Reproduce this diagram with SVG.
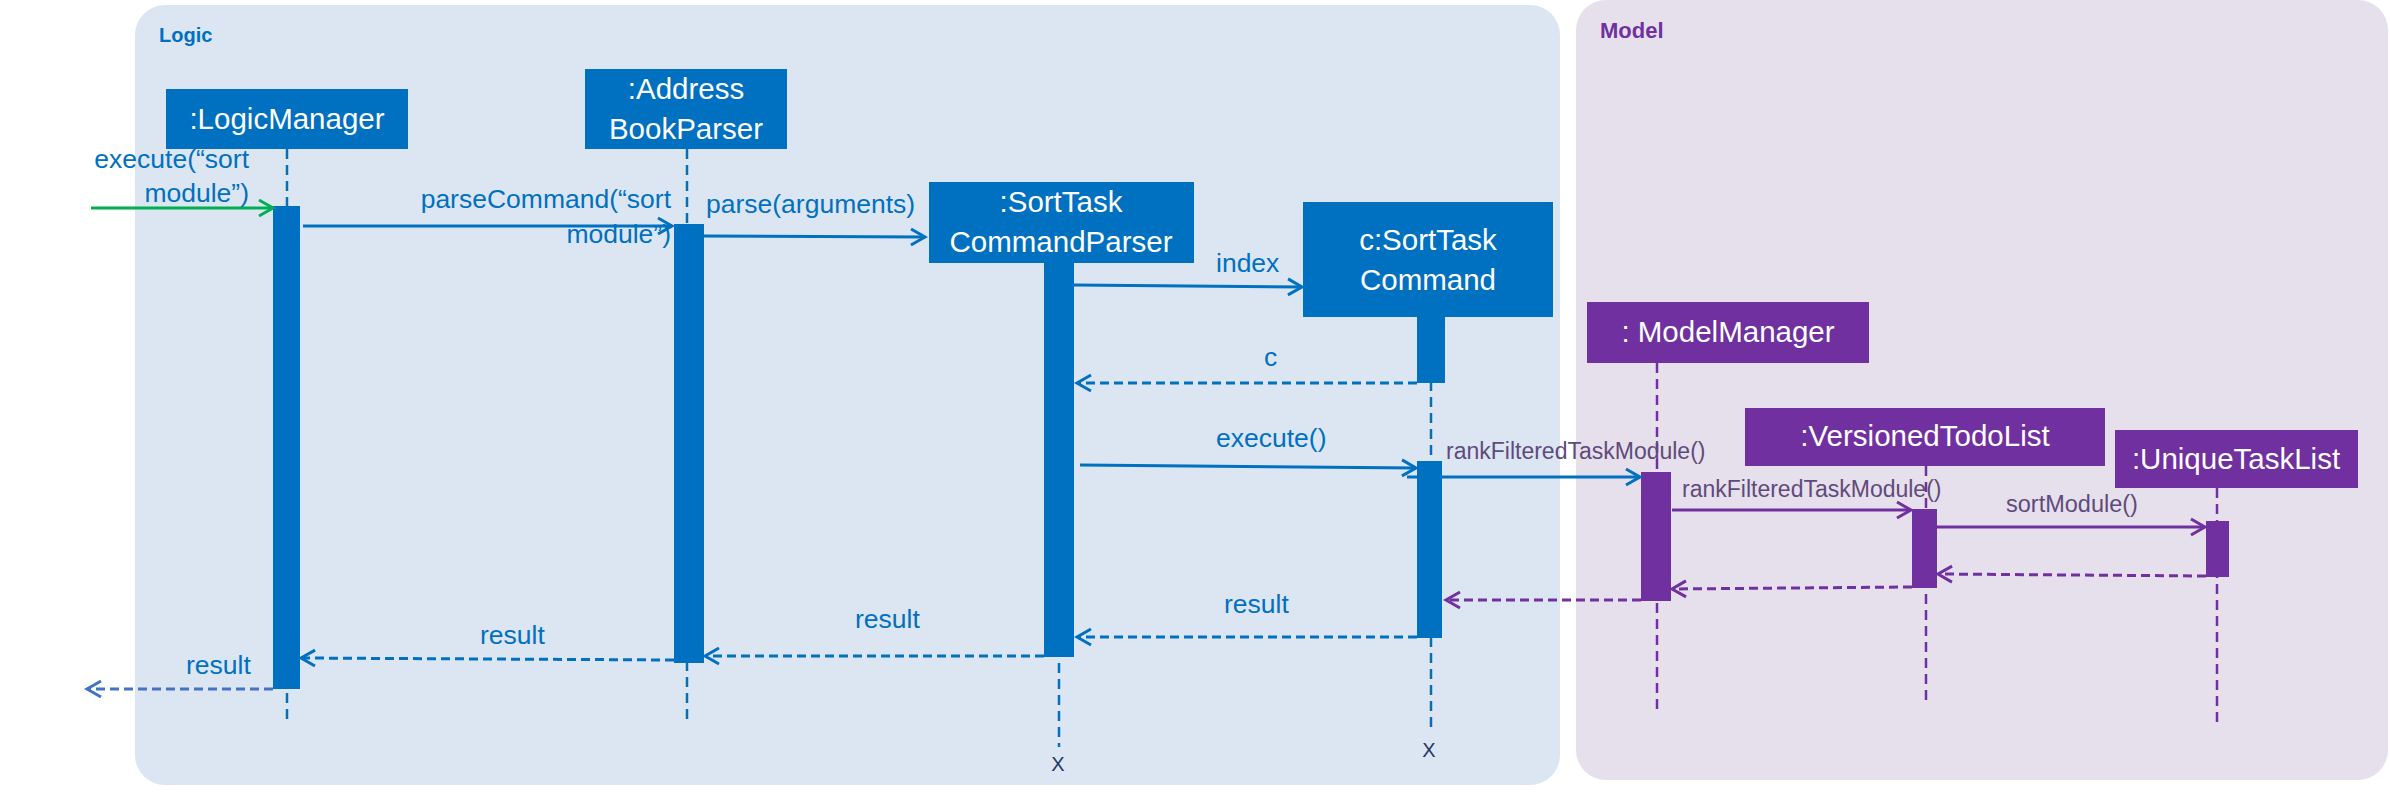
<svg xmlns="http://www.w3.org/2000/svg" width="2390" height="792" viewBox="0 0 2390 792">
<style>
text{font-family:"Liberation Sans",Arial,sans-serif}
.nb{fill:#0070C0}
.np{fill:#7030A0}
.nt{fill:#ffffff;font-size:29.5px;text-anchor:middle}
.lb{fill:#0070C0;font-size:26.5px}
.lp{fill:#604A7B;font-size:23.5px}
.ll{fill:none;stroke-width:2.5;stroke-dasharray:10 6}
.msg{fill:none;stroke-width:3}
.ret{fill:none;stroke-width:3;stroke-dasharray:9 5}
.blue{stroke:#0070C0}
.purple{stroke:#7030A0}
.x{fill:#1F3864;font-size:20px;text-anchor:middle}
</style>
<defs>
<marker id="ab" viewBox="0 0 18 20" refX="15" refY="10" markerWidth="18" markerHeight="20" markerUnits="userSpaceOnUse" orient="auto"><path d="M1,2 L15,10 L1,18" fill="none" stroke="#0070C0" stroke-width="3" stroke-dasharray="none"/></marker>
<marker id="ap" viewBox="0 0 18 20" refX="15" refY="10" markerWidth="18" markerHeight="20" markerUnits="userSpaceOnUse" orient="auto"><path d="M1,2 L15,10 L1,18" fill="none" stroke="#7030A0" stroke-width="3" stroke-dasharray="none"/></marker>
<marker id="ag" viewBox="0 0 18 20" refX="15" refY="10" markerWidth="18" markerHeight="20" markerUnits="userSpaceOnUse" orient="auto"><path d="M1,2 L15,10 L1,18" fill="none" stroke="#00B050" stroke-width="3" stroke-dasharray="none"/></marker>
<marker id="al" viewBox="0 0 18 20" refX="15" refY="10" markerWidth="18" markerHeight="20" markerUnits="userSpaceOnUse" orient="auto"><path d="M1,2 L15,10 L1,18" fill="none" stroke="#4472C4" stroke-width="3" stroke-dasharray="none"/></marker>
</defs>

<g id="frames">
<rect x="135" y="5" width="1425" height="780" rx="30" fill="#DCE6F2"/>
<text x="159" y="42" font-size="20" font-weight="bold" fill="#0070C0">Logic</text>
<rect x="1576" y="0" width="812" height="780" rx="30" fill="#E6E0EC"/>
<text x="1600" y="38" font-size="22" font-weight="bold" fill="#7030A0">Model</text>
</g>

<g id="lifelines">
<line class="ll blue" x1="287" y1="149" x2="287" y2="722"/>
<line class="ll blue" x1="687" y1="149" x2="687" y2="722"/>
<line class="ll blue" x1="1059" y1="263" x2="1059" y2="747"/>
<line class="ll blue" x1="1431" y1="317" x2="1431" y2="728"/>
<line class="ll purple" x1="1657" y1="363" x2="1657" y2="710"/>
<line class="ll purple" x1="1926" y1="466" x2="1926" y2="700"/>
<line class="ll purple" x1="2217" y1="488" x2="2217" y2="722"/>
</g>

<g id="LogicManager">
<rect class="nb" x="166" y="89" width="242" height="60"/>
<text class="nt" x="287" y="129">:LogicManager</text>
<rect class="nb" x="273" y="206" width="27" height="483"/>
</g>
<g id="AddressBookParser">
<rect class="nb" x="585" y="69" width="202" height="80"/>
<text class="nt" x="686" y="99">:Address</text>
<text class="nt" x="686" y="139">BookParser</text>
<rect class="nb" x="674" y="224" width="30" height="439"/>
</g>
<g id="SortTaskCommandParser">
<rect class="nb" x="929" y="182" width="265" height="81"/>
<text class="nt" x="1061" y="212">:SortTask</text>
<text class="nt" x="1061" y="252">CommandParser</text>
<rect class="nb" x="1044" y="263" width="30" height="394"/>
<text class="x" x="1058" y="771">X</text>
</g>
<g id="SortTaskCommand">
<rect class="nb" x="1303" y="202" width="250" height="115"/>
<text class="nt" x="1428" y="250">c:SortTask</text>
<text class="nt" x="1428" y="290">Command</text>
<rect class="nb" x="1417" y="317" width="28" height="66"/>
<rect class="nb" x="1417" y="461" width="25" height="177"/>
<text class="x" x="1429" y="757">X</text>
</g>
<g id="ModelManager">
<rect class="np" x="1587" y="302" width="282" height="61"/>
<text class="nt" x="1728" y="342">: ModelManager</text>
<rect class="np" x="1641" y="472" width="30" height="129"/>
</g>
<g id="VersionedTodoList">
<rect class="np" x="1745" y="408" width="360" height="58"/>
<text class="nt" x="1925" y="446">:VersionedTodoList</text>
<rect class="np" x="1912" y="509" width="25" height="79"/>
</g>
<g id="UniqueTaskList">
<rect class="np" x="2115" y="430" width="243" height="58"/>
<text class="nt" x="2236" y="469">:UniqueTaskList</text>
<rect class="np" x="2206" y="521" width="23" height="56"/>
</g>

<g id="connectors">
<line class="msg" stroke="#00B050" x1="91" y1="208" x2="273" y2="208" marker-end="url(#ag)"/>
<line class="msg blue" x1="303" y1="226" x2="672" y2="226" marker-end="url(#ab)"/>
<line class="msg blue" x1="704" y1="236" x2="925" y2="237" marker-end="url(#ab)"/>
<line class="msg blue" x1="1074" y1="285" x2="1302" y2="287" marker-end="url(#ab)"/>
<line class="ret blue" x1="1417" y1="383" x2="1077" y2="383" marker-end="url(#ab)"/>
<line class="msg blue" x1="1080" y1="465" x2="1416" y2="468" marker-end="url(#ab)"/>
<line class="msg blue" x1="1407" y1="477" x2="1640" y2="477" marker-end="url(#ab)"/>
<line class="msg purple" x1="1672" y1="510" x2="1911" y2="510" marker-end="url(#ap)"/>
<line class="msg purple" x1="1937" y1="527" x2="2205" y2="527" marker-end="url(#ap)"/>
<line class="ret purple" x1="2206" y1="576" x2="1938" y2="574" marker-end="url(#ap)"/>
<line class="ret purple" x1="1912" y1="587" x2="1672" y2="589" marker-end="url(#ap)"/>
<line class="ret purple" x1="1641" y1="600" x2="1446" y2="600" marker-end="url(#ap)"/>
<line class="ret blue" x1="1417" y1="637" x2="1077" y2="637" marker-end="url(#ab)"/>
<line class="ret blue" x1="1044" y1="656" x2="705" y2="656" marker-end="url(#ab)"/>
<line class="ret blue" x1="674" y1="660" x2="301" y2="658" marker-end="url(#ab)"/>
<line class="ret" stroke="#4472C4" x1="273" y1="689" x2="87" y2="689" marker-end="url(#al)"/>
</g>

<g id="labels">
<text class="lb" x="249" y="168" text-anchor="end">execute(“sort</text>
<text class="lb" x="249" y="202" text-anchor="end">module”)</text>
<text class="lb" x="671" y="208" text-anchor="end">parseCommand(“sort</text>
<text class="lb" x="671" y="243" text-anchor="end">module”)</text>
<text class="lb" x="706" y="213">parse(arguments)</text>
<text class="lb" x="1216" y="272">index</text>
<text class="lb" x="1264" y="366">c</text>
<text class="lb" x="1216" y="447">execute()</text>
<text class="lp" x="1446" y="459" style="font-size:23px">rankFilteredTaskModule()</text>
<text class="lp" x="1682" y="497" style="font-size:23px">rankFilteredTaskModule()</text>
<text class="lp" x="2006" y="512">sortModule()</text>
<text class="lb" x="1224" y="613">result</text>
<text class="lb" x="855" y="628">result</text>
<text class="lb" x="480" y="644">result</text>
<text class="lb" x="186" y="674">result</text>
</g>
</svg>
